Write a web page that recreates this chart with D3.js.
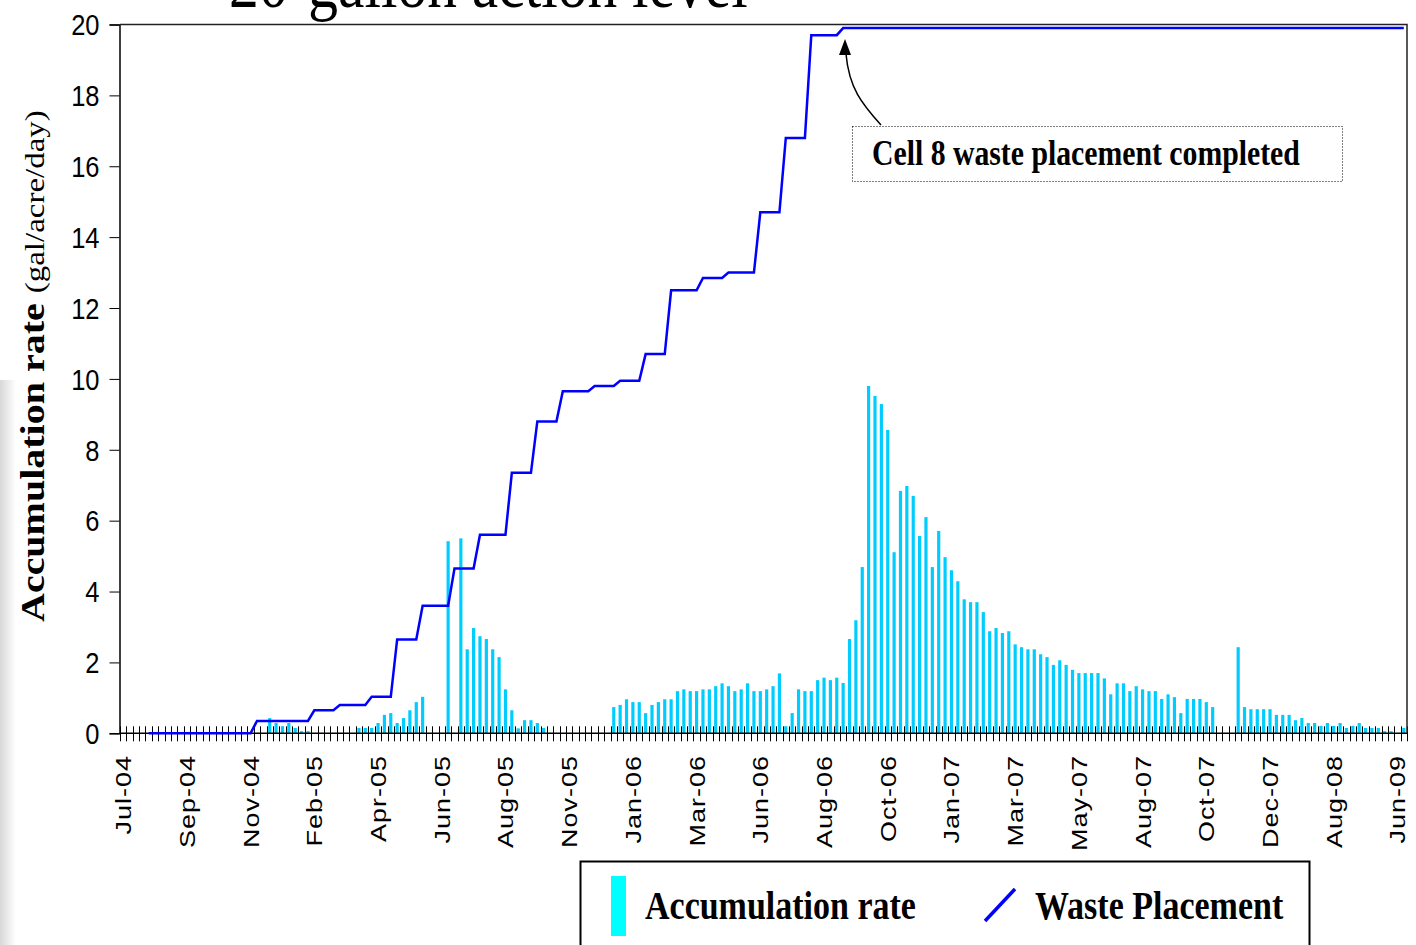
<!DOCTYPE html>
<html>
<head>
<meta charset="utf-8">
<script src="https://cdn.jsdelivr.net/npm/d3@7"></script>
<style>
  body { margin: 0; background: #fff; }
  svg { display: block; }
</style>
</head>
<body>
<div id="chart"></div>
<script>
// ---- data ----
// x labels, one every 10 categories
var tickLabels = ["Jul-04", "Sep-04", "Nov-04", "Feb-05", "Apr-05", "Jun-05", "Aug-05",
  "Nov-05", "Jan-06", "Mar-06", "Jun-06", "Aug-06", "Oct-06", "Jan-07", "Mar-07",
  "May-07", "Aug-07", "Oct-07", "Dec-07", "Aug-08", "Jun-09"];

// accumulation rate (gal/acre/day), one value per category
var accumulation = [
  0, 0, 0, 0, 0, 0, 0, 0, 0, 0,
  0, 0, 0, 0, 0, 0, 0, 0, 0, 0,
  0, 0, 0, 0.43, 0.29, 0.2, 0.29, 0.15, 0.06, 0.06,
  0, 0, 0, 0, 0, 0, 0, 0.15, 0.15, 0.15,
  0.29, 0.52, 0.57, 0.29, 0.43, 0.65, 0.88, 1.03, 0, 0,
  0, 5.42, 0, 5.5, 2.37, 2.97, 2.74, 2.66, 2.37, 2.15,
  1.24, 0.65, 0.14, 0.37, 0.37, 0.29, 0.15, 0, 0, 0,
  0, 0, 0, 0, 0, 0, 0, 0.74, 0.8, 0.96,
  0.88, 0.88, 0.57, 0.8, 0.88, 0.96, 0.96, 1.19, 1.24, 1.19,
  1.19, 1.24, 1.24, 1.33, 1.41, 1.33, 1.19, 1.24, 1.41, 1.19,
  1.19, 1.24, 1.33, 1.69, 0.2, 0.57, 1.24, 1.19, 1.19, 1.5,
  1.57, 1.5, 1.57, 1.42, 2.66, 3.19, 4.69, 9.8, 9.52, 9.29,
  8.56, 5.11, 6.84, 6.98, 6.7, 5.57, 6.1, 4.69, 5.71, 4.97,
  4.6, 4.29, 3.78, 3.7, 3.7, 3.42, 2.88, 2.97, 2.83, 2.88,
  2.51, 2.43, 2.37, 2.37, 2.23, 2.15, 1.93, 2.06, 1.93, 1.79,
  1.7, 1.7, 1.7, 1.7, 1.55, 1.1, 1.41, 1.41, 1.19, 1.33,
  1.24, 1.19, 1.19, 0.97, 1.1, 1.02, 0.57, 0.97, 0.97, 0.97,
  0.88, 0.74, 0, 0, 0, 2.43, 0.74, 0.68, 0.68, 0.68,
  0.68, 0.52, 0.52, 0.52, 0.37, 0.43, 0.29, 0.29, 0.21, 0.29,
  0.21, 0.29, 0.15, 0.21, 0.29, 0.15, 0.15, 0.15, 0.06, 0.06,
  0, 0.15
];

// cumulative waste placement, same categories (null = no data yet)
var placement = [
  null, null, null, null, 0, 0, 0, 0, 0, 0,
  0, 0, 0, 0, 0, 0, 0, 0, 0, 0,
  0, 0.35, 0.35, 0.35, 0.35, 0.35, 0.35, 0.35, 0.35, 0.35,
  0.65, 0.65, 0.65, 0.65, 0.8, 0.8, 0.8, 0.8, 0.8, 1.03,
  1.03, 1.03, 1.03, 2.65, 2.65, 2.65, 2.65, 3.6, 3.6, 3.6,
  3.6, 3.6, 4.65, 4.65, 4.65, 4.65, 5.6, 5.6, 5.6, 5.6,
  5.6, 7.35, 7.35, 7.35, 7.35, 8.8, 8.8, 8.8, 8.8, 9.65,
  9.65, 9.65, 9.65, 9.65, 9.8, 9.8, 9.8, 9.8, 9.95, 9.95,
  9.95, 9.95, 10.7, 10.7, 10.7, 10.7, 12.5, 12.5, 12.5, 12.5,
  12.5, 12.85, 12.85, 12.85, 12.85, 13, 13, 13, 13, 13,
  14.7, 14.7, 14.7, 14.7, 16.8, 16.8, 16.8, 16.8, 19.7, 19.7,
  19.7, 19.7, 19.7, 19.9, 19.9, 19.9, 19.9, 19.9, 19.9, 19.9,
  19.9, 19.9, 19.9, 19.9, 19.9, 19.9, 19.9, 19.9, 19.9, 19.9,
  19.9, 19.9, 19.9, 19.9, 19.9, 19.9, 19.9, 19.9, 19.9, 19.9,
  19.9, 19.9, 19.9, 19.9, 19.9, 19.9, 19.9, 19.9, 19.9, 19.9,
  19.9, 19.9, 19.9, 19.9, 19.9, 19.9, 19.9, 19.9, 19.9, 19.9,
  19.9, 19.9, 19.9, 19.9, 19.9, 19.9, 19.9, 19.9, 19.9, 19.9,
  19.9, 19.9, 19.9, 19.9, 19.9, 19.9, 19.9, 19.9, 19.9, 19.9,
  19.9, 19.9, 19.9, 19.9, 19.9, 19.9, 19.9, 19.9, 19.9, 19.9,
  19.9, 19.9, 19.9, 19.9, 19.9, 19.9, 19.9, 19.9, 19.9, 19.9,
  19.9, 19.9
];

var yTicks = [0, 2, 4, 6, 8, 10, 12, 14, 16, 18, 20];

// ---- layout ----
var width = 1416, height = 945;
var plot = {left: 120, right: 1407, top: 24.5, bottom: 733.3};
var squeezeX = 0.85;   // the slide text looks horizontally squeezed

var svg = d3.select("#chart").append("svg")
    .attr("width", width)
    .attr("height", height);

// faint grey shading on the slide's left edge
var grad = svg.append("defs").append("linearGradient")
    .attr("id", "edge").attr("x1", "0").attr("x2", "1");
grad.append("stop").attr("offset", "0").attr("stop-color", "#d8d8d8");
grad.append("stop").attr("offset", "1").attr("stop-color", "#ffffff");
svg.append("rect").attr("x", 0).attr("y", 380).attr("width", 16).attr("height", 565)
    .attr("fill", "url(#edge)");

// scales
var categories = d3.range(accumulation.length);
var xScale = d3.scaleBand()
    .domain(categories)
    .range([plot.left, plot.right])
    .paddingInner(0.5)
    .paddingOuter(0.25);
var yScale = d3.scaleLinear().domain([0, 20]).range([plot.bottom, plot.top]);

function xCenter(i) { return xScale(i) + xScale.bandwidth() / 2; }

// helper: place text with the horizontal squeeze
function place(sel, x, y, rot) {
  return sel.attr("transform", "translate(" + x + "," + y + ") scale(" + squeezeX + ",1)" +
    (rot ? " rotate(" + rot + ")" : ""));
}

// title (cut off at the top of the slide)
place(svg.append("text"), 229, 7)
    .attr("font-family", "Liberation Serif, Times New Roman, serif")
    .attr("font-size", "70px")
    .text("20-gallon action level");

// bars
svg.append("g").selectAll("rect")
    .data(categories.filter(function(i) { return accumulation[i] > 0; }))
    .enter()
    .append("rect")
    .attr("x", function(i) { return xScale(i); })
    .attr("y", function(i) { return yScale(accumulation[i]); })
    .attr("width", xScale.bandwidth())
    .attr("height", function(i) { return yScale(0) - yScale(accumulation[i]); })
    .attr("fill", "#00CCFF");

// x axis line and crossing ticks at category boundaries
svg.append("line")
    .attr("x1", plot.left).attr("x2", plot.right)
    .attr("y1", yScale(0)).attr("y2", yScale(0))
    .attr("stroke", "#000").attr("stroke-width", 1.5);

svg.append("g").selectAll("line")
    .data(d3.range(categories.length + 1))
    .enter()
    .append("line")
    .attr("x1", function(i) { return Math.round(xScale.range()[0] + i * xScale.step()) + 0.5; })
    .attr("x2", function(i) { return Math.round(xScale.range()[0] + i * xScale.step()) + 0.5; })
    .attr("y1", yScale(0) - 7)
    .attr("y2", yScale(0) + 8)
    .attr("stroke", "#000")
    .attr("stroke-width", 1);

// x labels, every 10th category
svg.append("g").selectAll("text")
    .data(tickLabels)
    .enter()
    .append("text")
    .each(function(d, k) {
      place(d3.select(this), xCenter(k * 10) + 8, 755, -90);
    })
    .attr("text-anchor", "end")
    .attr("font-family", "Liberation Sans, Arial, sans-serif")
    .attr("font-size", "27px")
    .attr("letter-spacing", "1px")
    .text(function(d) { return d; });

// y axis
var yAxis = d3.axisLeft(yScale).tickValues(yTicks).tickSize(10).tickPadding(0);
var gy = svg.append("g")
    .attr("transform", "translate(" + (plot.left - 0.5) + ",0)")
    .call(yAxis);
gy.select(".domain").attr("stroke", "#000").attr("stroke-width", 1.5);
gy.selectAll(".tick line").attr("stroke", "#000");
gy.selectAll(".tick text")
    .attr("x", null).attr("dy", null)
    .attr("text-anchor", "end")
    .attr("dominant-baseline", "central")
    .attr("font-family", "Liberation Sans, Arial, sans-serif")
    .attr("font-size", "30px")
    .attr("fill", "#000")
    .attr("transform", "translate(-20,0) scale(" + squeezeX + ",1)");

// frame top and right
svg.append("path")
    .attr("d", "M" + plot.left + "," + plot.top + "H" + plot.right + "V" + plot.bottom)
    .attr("fill", "none")
    .attr("stroke", "#222")
    .attr("stroke-width", 1.5);

// waste placement line
var line = d3.line()
    .defined(function(d) { return d != null; })
    .x(function(d, i) { return xCenter(i); })
    .y(function(d) { return yScale(d); });

svg.append("path")
    .datum(placement)
    .attr("d", line)
    .attr("fill", "none")
    .attr("stroke", "#0000FF")
    .attr("stroke-width", 2.5);

// y title
var ytitle = place(svg.append("text"), 44, 622, -90)
    .attr("font-family", "Liberation Serif, Times New Roman, serif")
    .attr("fill", "#000");
ytitle.append("tspan").attr("font-weight", "bold").attr("font-size", "40px").text("Accumulation rate ");
ytitle.append("tspan").attr("font-size", "33px").text("(gal/acre/day)");

// annotation
svg.append("rect")
    .attr("x", 852.5).attr("y", 126.5).attr("width", 490).attr("height", 55)
    .attr("fill", "#fff")
    .attr("stroke", "#000").attr("stroke-width", 1)
    .attr("stroke-dasharray", "1,2");
place(svg.append("text"), 872, 165)
    .attr("font-family", "Liberation Serif, Times New Roman, serif")
    .attr("font-weight", "bold")
    .attr("font-size", "35px")
    .text("Cell 8 waste placement completed");
svg.append("path")
    .attr("d", "M881,125 C862,104 849,88 846,54")
    .attr("fill", "none").attr("stroke", "#000").attr("stroke-width", 1.5);
svg.append("path")
    .attr("d", "M845,39 L839,55 L851,55 Z")
    .attr("fill", "#000");

// legend
svg.append("rect")
    .attr("x", 580.5).attr("y", 861.5).attr("width", 729).attr("height", 110)
    .attr("fill", "#fff").attr("stroke", "#000").attr("stroke-width", 2);
svg.append("rect")
    .attr("x", 611).attr("y", 876).attr("width", 15).attr("height", 60)
    .attr("fill", "#00FFFF");
place(svg.append("text"), 645, 919)
    .attr("font-family", "Liberation Serif, Times New Roman, serif")
    .attr("font-weight", "bold")
    .attr("font-size", "40px")
    .text("Accumulation rate");
svg.append("line")
    .attr("x1", 985).attr("y1", 921).attr("x2", 1015).attr("y2", 889)
    .attr("stroke", "#0000FF").attr("stroke-width", 3.5);
place(svg.append("text"), 1035, 919)
    .attr("font-family", "Liberation Serif, Times New Roman, serif")
    .attr("font-weight", "bold")
    .attr("font-size", "40px")
    .text("Waste Placement");
</script>
</body>
</html>
